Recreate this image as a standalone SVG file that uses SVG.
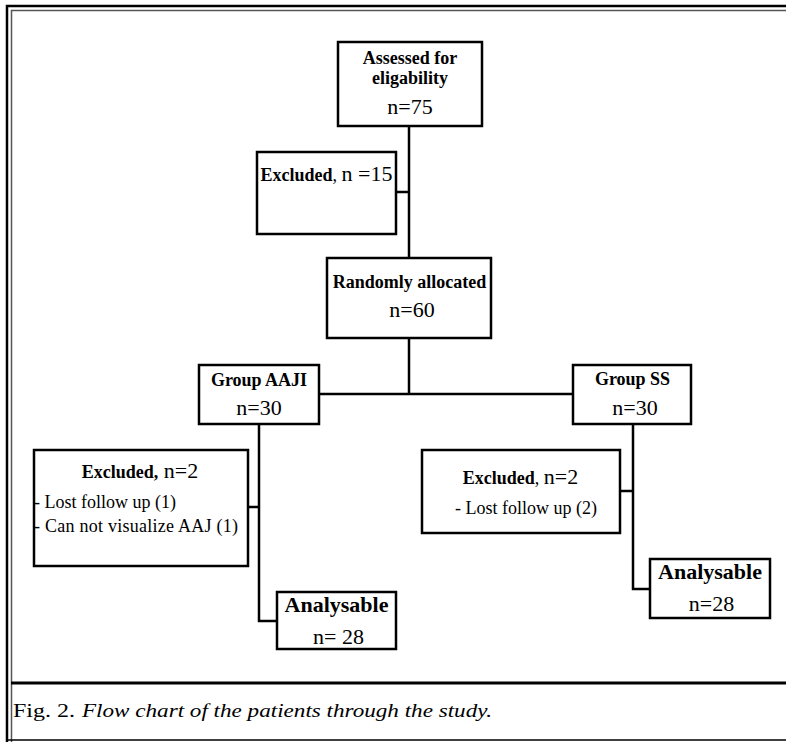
<svg xmlns="http://www.w3.org/2000/svg" width="786" height="742" viewBox="0 0 786 742">
<style>
.box{fill:#fff;stroke:#000;stroke-width:2.5}
.ln{fill:none;stroke:#000;stroke-width:2.5}
text{font-family:"Liberation Serif","Times New Roman",serif;fill:#000}
.t{font-size:18px;font-weight:bold}
.n{font-size:22px}
.a{font-size:22px;font-weight:bold}
.r{font-size:18px}
.c{text-anchor:middle}
</style>
<rect x="0" y="0" width="786" height="742" fill="#fff"/>
<g id="frame">
<path d="M7,742 V6 H786" fill="none" stroke="#000" stroke-width="2.5"/>
<path d="M11.5,742 V10.5 H786" fill="none" stroke="#555" stroke-width="1.5"/>
<line x1="11" y1="683" x2="786" y2="683" stroke="#000" stroke-width="3"/>
<line x1="7" y1="740" x2="786" y2="740" stroke="#000" stroke-width="1.5"/>
</g>
<g id="connectors">
<path class="ln" d="M409,127 V257"/>
<path class="ln" d="M397,192 H409"/>
<path class="ln" d="M409,338 V394"/>
<path class="ln" d="M320,394 H572"/>
<path class="ln" d="M259,424 V621 H277"/>
<path class="ln" d="M249,507 H259"/>
<path class="ln" d="M633,425 V589 H650"/>
<path class="ln" d="M621,491 H633"/>
</g>
<g id="assessed">
<rect class="box" x="338" y="42" width="144" height="84"/>
<text class="t c" x="410" y="64">Assessed for</text>
<text class="t c" x="410" y="84">eligability</text>
<text class="n c" x="410" y="114">n=75</text>
</g>
<g id="excluded15">
<rect class="box" x="257" y="152" width="139" height="82"/>
<text class="c" x="326.5" y="181"><tspan class="t">Excluded</tspan><tspan class="r">, </tspan><tspan class="n">n =15</tspan></text>
</g>
<g id="randomly">
<rect class="box" x="327" y="258" width="164" height="80"/>
<text class="t c" x="409.5" y="288">Randomly allocated</text>
<text class="n c" x="412" y="317">n=60</text>
</g>
<g id="groupAAJI">
<rect class="box" x="199" y="365" width="120" height="59"/>
<text class="t c" x="259" y="386">Group AAJI</text>
<text class="n c" x="259" y="415">n=30</text>
</g>
<g id="groupSS">
<rect class="box" x="573" y="365" width="118" height="59"/>
<text class="t c" x="632.5" y="385">Group SS</text>
<text class="n c" x="635" y="415">n=30</text>
</g>
<g id="excludedAAJI">
<rect class="box" x="34" y="450" width="214" height="116"/>
<text class="c" x="140" y="478"><tspan class="t">Excluded,</tspan><tspan class="n"> n=2</tspan></text>
<text class="r" x="34" y="508">- Lost follow up (1)</text>
<text class="r" x="34" y="532" textLength="204" lengthAdjust="spacing">- Can not visualize AAJ (1)</text>
</g>
<g id="excludedSS">
<rect class="box" x="422" y="450" width="198" height="83"/>
<text class="c" x="520.5" y="484"><tspan class="t">Excluded</tspan><tspan class="r">, </tspan><tspan class="n">n=2</tspan></text>
<text class="r c" x="526" y="514">- Lost follow up (2)</text>
</g>
<g id="analysableAAJI">
<rect class="box" x="277" y="592" width="119" height="57"/>
<text class="a c" x="336.5" y="612">Analysable</text>
<text class="n c" x="338.5" y="644">n= 28</text>
</g>
<g id="analysableSS">
<rect class="box" x="650" y="559" width="120" height="59"/>
<text class="a c" x="710" y="579">Analysable</text>
<text class="n c" x="711.5" y="611">n=28</text>
</g>
<g id="caption">
<text x="13" y="717" font-size="18" textLength="62" lengthAdjust="spacingAndGlyphs">Fig. 2.</text>
<text x="82" y="717" font-size="18" font-style="italic" textLength="410" lengthAdjust="spacingAndGlyphs">Flow chart of the patients through the study.</text>
</g>
</svg>
